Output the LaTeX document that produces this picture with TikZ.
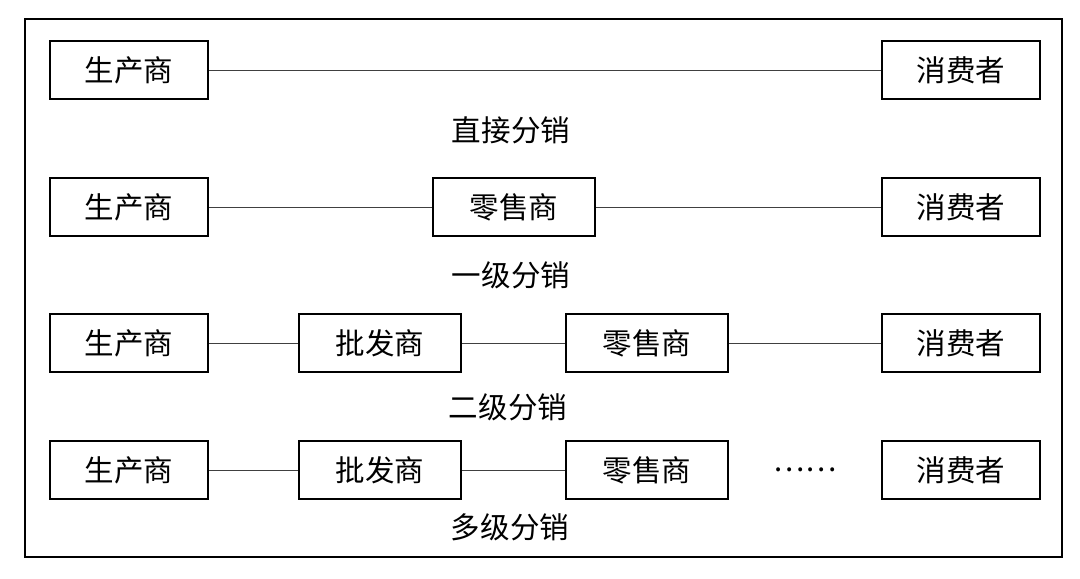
\documentclass[tikz,border=0pt]{standalone}
\usepackage{fontspec}
\setmainfont{Noto Sans CJK SC}
\usepackage{tikz}
\usetikzlibrary{positioning}

\begin{document}
\begin{tikzpicture}[x=0.025cm, y=-0.025cm,
    box/.style={draw, line width=2pt, minimum width=3.95cm, minimum height=1.45cm, inner sep=0pt, font=\fontsize{21}{25}\selectfont},
    link/.style={draw=black!75, line width=0.7pt},
    tag/.style={font=\fontsize{21}{25}\selectfont}
  ]
    \useasboundingbox (0,0) rectangle (1080,579);
    \draw[line width=2pt] (25,19) rectangle (1062,557);

    % direct
    \node[box] (prodA) at (129,70) {生产商};
    \node[box] (consA) at (961,70) {消费者};
    \node[tag] (tagA) at (511,130) {直接分销};
    \draw[link] (prodA) -- (consA);

    % one level
    \node[box] (prodB) at (129,207) {生产商};
    \node[box, minimum width=4.05cm] (retB) at (514,207) {零售商};
    \node[box] (consB) at (961,207) {消费者};
    \node[tag] (tagB) at (511,275) {一级分销};
    \draw[link] (prodB) -- (retB);
    \draw[link] (retB) -- (consB);

    % two levels
    \node[box] (prodC) at (129,343) {生产商};
    \node[box, minimum width=4.05cm] (wholC) at (380,343) {批发商};
    \node[box, minimum width=4.05cm] (retC) at (647,343) {零售商};
    \node[box] (consC) at (961,343) {消费者};
    \node[tag] (tagC) at (508,407) {二级分销};
    \draw[link] (prodC) -- (wholC);
    \draw[link] (wholC) -- (retC);
    \draw[link] (retC) -- (consC);

    % many levels
    \node[box] (prodD) at (129,470) {生产商};
    \node[box, minimum width=4.05cm] (wholD) at (380,470) {批发商};
    \node[box, minimum width=4.05cm] (retD) at (647,470) {零售商};
    \node[tag] (dotsD) at (805,470) {……};
    \node[box] (consD) at (961,470) {消费者};
    \node[tag] (tagD) at (510,527) {多级分销};
    \draw[link] (prodD) -- (wholD);
    \draw[link] (wholD) -- (retD);
\end{tikzpicture}
\end{document}
